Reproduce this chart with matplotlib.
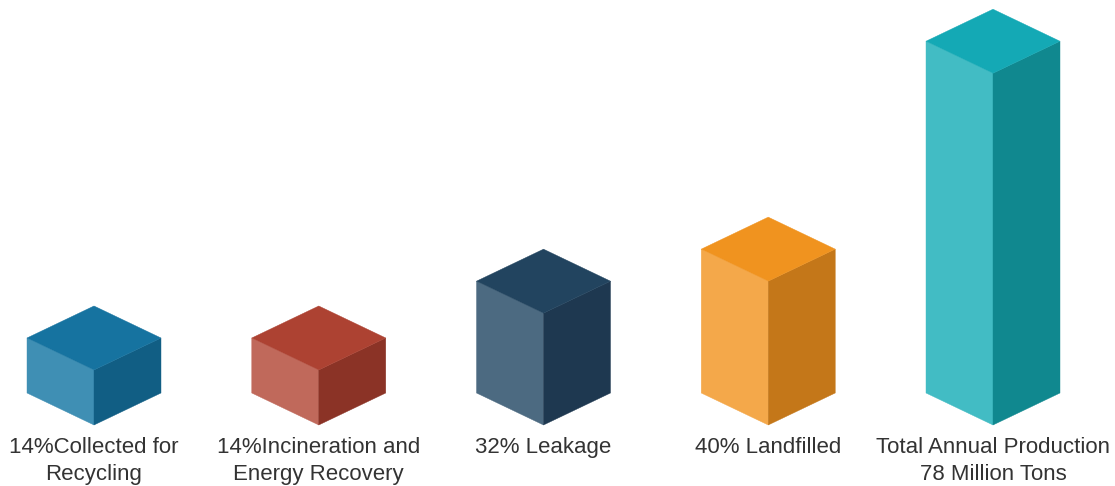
import matplotlib
matplotlib.use("Agg")
import matplotlib.pyplot as plt
from matplotlib.patches import Polygon

# bar values (million tons)
labels = ["14%Collected for\nRecycling",
          "14%Incineration and\nEnergy Recovery",
          "32% Leakage",
          "40% Landfilled",
          "Total Annual Production\n78 Million Tons"]
values = [12.2, 12.2, 24.8, 31.9, 78.0]

# face colours: top, left, right
top_colors = ["#1673a0", "#ad4232", "#22445f", "#f0931f", "#14a9b5"]
left_colors = ["#3f8fb4", "#c0695b", "#4c6a81", "#f4a84a", "#42bcc4"]
right_colors = ["#115e84", "#8b3326", "#1e3850", "#c47719", "#10888f"]

plt.rcParams["font.family"] = ["Liberation Sans", "DejaVu Sans"]

fig = plt.figure(figsize=(11.15, 4.86), dpi=100)
ax = fig.add_axes([0, 0, 1, 1])

xpx = 224.75   # pixels per category
ypx = 4.51     # pixels per value unit
ax.set_xlim(-94 / xpx, 4 + (1115 - 993) / xpx)
ax.set_ylim(-61 / ypx, (486 - 61) / ypx)
ax.axis("off")

w = 67 / xpx     # half width of a bar
d = 32 / ypx     # rise of the side corners above the front edge

for i, v in enumerate(values):
    left = [(i - w, d), (i, 0), (i, v), (i - w, v + d)]
    right = [(i, 0), (i + w, d), (i + w, v + d), (i, v)]
    top = [(i - w, v + d), (i, v), (i + w, v + d), (i, v + 2 * d)]
    for pts, col in ((left, left_colors[i]), (right, right_colors[i]), (top, top_colors[i])):
        ax.add_patch(Polygon(pts, closed=True, facecolor=col, edgecolor=col, lw=0.3))
    ax.text(i, -2.7, labels[i], ha="center", va="top", fontsize=16,
            color="#333333", linespacing=1.38)

fig.savefig("out.png", dpi=100)
